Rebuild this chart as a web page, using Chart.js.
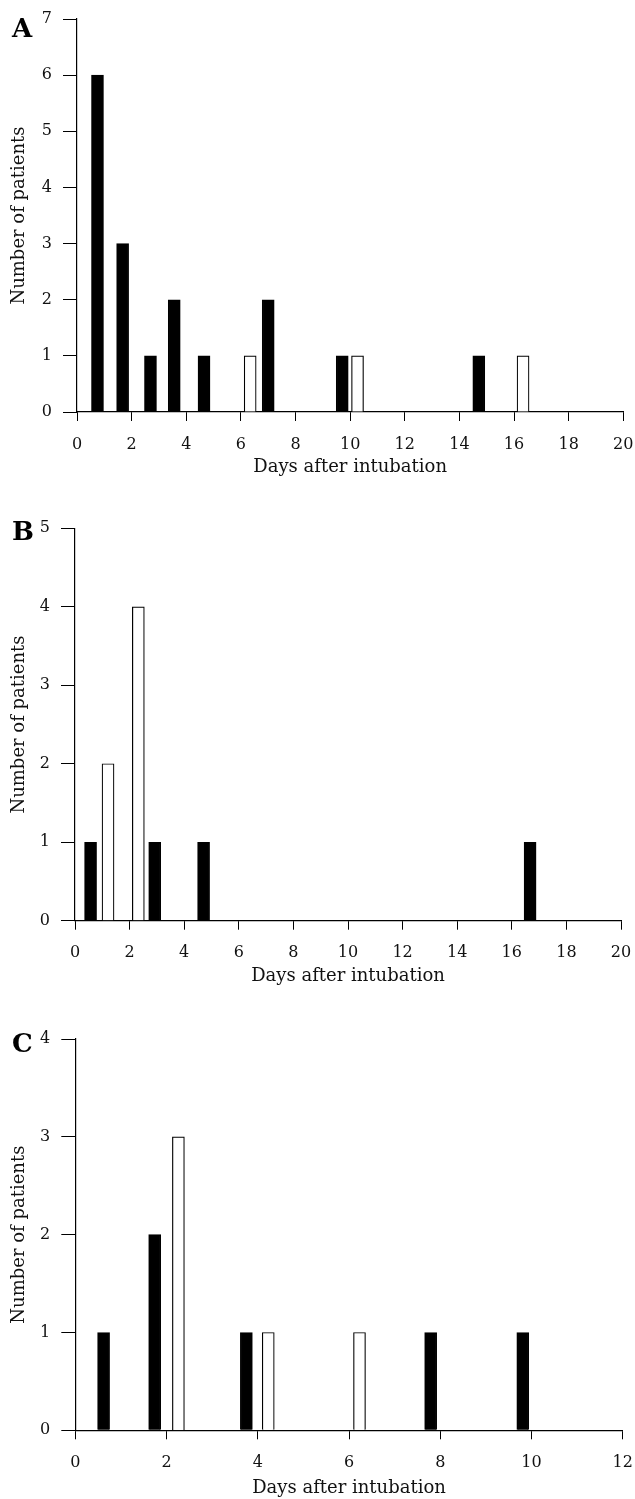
<!DOCTYPE html>
<html><head><meta charset="utf-8">
<script src="https://cdn.jsdelivr.net/npm/chart.js@4.4.1/dist/chart.umd.min.js"></script>
<style>
html,body{margin:0;padding:0;background:#fff;}
body{width:635px;height:1499px;position:relative;overflow:hidden;}
.wrap{position:absolute;left:0;width:635px;}
.lab{position:absolute;left:12px;font-family:"DejaVu Serif";font-weight:bold;font-size:26px;line-height:1;color:#000;}
</style></head><body>
<div class="wrap" style="top:0px;height:478px"><canvas id="cA" width="635" height="478"></canvas></div>
<div class="wrap" style="top:516px;height:471px"><canvas id="cB" width="635" height="471"></canvas></div>
<div class="wrap" style="top:1020px;height:479px"><canvas id="cC" width="635" height="479"></canvas></div>
<div class="lab" style="top:15px">A</div>
<div class="lab" style="top:518px">B</div>
<div class="lab" style="top:1030px">C</div>
<script>
// Panel A
const aBlackDays = [0.75, 1.67, 2.69, 3.56, 4.65, 7.0, 9.71, 14.71];
const aBlackCounts = [6, 3, 1, 2, 1, 2, 1, 1];
const aWhiteDays = [6.34, 10.27, 16.33];
const aWhiteCounts = [1, 1, 1];
const aXTicks = [0, 2, 4, 6, 8, 10, 12, 14, 16, 18, 20];
const aYTicks = [0, 1, 2, 3, 4, 5, 6, 7];
// Panel B
const bBlackDays = [0.57, 2.92, 4.71, 16.67];
const bBlackCounts = [1, 1, 1, 1];
const bWhiteDays = [1.21, 2.32];
const bWhiteCounts = [2, 4];
const bXTicks = [0, 2, 4, 6, 8, 10, 12, 14, 16, 18, 20];
const bYTicks = [0, 1, 2, 3, 4, 5];
// Panel C
const cBlackDays = [0.62, 1.74, 3.75, 7.79, 9.81];
const cBlackCounts = [1, 2, 1, 1, 1];
const cWhiteDays = [2.26, 4.23, 6.23];
const cWhiteCounts = [3, 1, 1];
const cXTicks = [0, 2, 4, 6, 8, 10, 12];
const cYTicks = [0, 1, 2, 3, 4];

const xTitle = 'Days after intubation';
const yTitle = 'Number of patients';

function pts(xs, ys) { return xs.map((x, i) => ({x: x, y: ys[i]})); }

function makeChart(id, bx, by, wx, wy, xTicks, yTicks, g) {
  const tickFont = {family: '"DejaVu Serif"', size: 16};
  const titleFont = {family: '"DejaVu Serif"', size: 18};
  new Chart(document.getElementById(id), {
    type: 'bar',
    data: {
      datasets: [
        {data: pts(bx, by), backgroundColor: '#000', borderColor: '#000', borderWidth: 1.2, barThickness: 12, grouped: false},
        {data: pts(wx, wy), backgroundColor: '#fff', borderColor: '#000', borderWidth: 1.2, barThickness: 12, grouped: false}
      ]
    },
    options: {
      responsive: false,
      animation: false,
      events: [],
      layout: {padding: {top: g.top, right: g.right, bottom: 0, left: 0}},
      plugins: {legend: {display: false}, tooltip: {enabled: false}},
      scales: {
        x: {
          type: 'linear',
          offset: false,
          min: xTicks[0], max: xTicks[xTicks.length - 1],
          afterBuildTicks: s => { s.ticks = xTicks.map(v => ({value: v})); },
          afterFit: s => { s.height = g.xh; s.paddingLeft = 0; s.paddingRight = 0; },
          grid: {display: true, drawOnChartArea: false, drawTicks: true, tickLength: 9, color: '#000', lineWidth: 1, offset: false},
          border: {display: true, color: '#000', width: 1.2},
          ticks: {color: '#111', font: tickFont, padding: 14, maxRotation: 0, autoSkip: false},
          title: {display: true, text: xTitle, color: '#111', font: titleFont, padding: {top: 0, bottom: g.xtp}}
        },
        y: {
          type: 'linear',
          min: yTicks[0], max: yTicks[yTicks.length - 1],
          afterBuildTicks: s => { s.ticks = yTicks.map(v => ({value: v})); },
          afterFit: s => { s.width = g.left; s.paddingTop = 0; s.paddingBottom = 0; },
          grid: {display: true, drawOnChartArea: false, drawTicks: true, tickLength: 14, color: '#000', lineWidth: 1},
          border: {display: true, color: '#000', width: 1.2},
          ticks: {color: '#111', font: tickFont, padding: 11, autoSkip: false},
          title: {display: true, text: yTitle, color: '#111', font: titleFont, padding: {top: 9, bottom: 0}}
        }
      }
    }
  });
}

makeChart('cA', aBlackDays, aBlackCounts, aWhiteDays, aWhiteCounts, aXTicks, aYTicks,
  {top: 19, right: 11.7, left: 77, xh: 66, xtp: 0});
makeChart('cB', bBlackDays, bBlackCounts, bWhiteDays, bWhiteCounts, bXTicks, bYTicks,
  {top: 12.3, right: 14, left: 75, xh: 66.3, xtp: 0});
makeChart('cC', cBlackDays, cBlackCounts, cWhiteDays, cWhiteCounts, cXTicks, cYTicks,
  {top: 19, right: 12.3, left: 75.3, xh: 68.7, xtp: 0});
</script>
</body></html>
